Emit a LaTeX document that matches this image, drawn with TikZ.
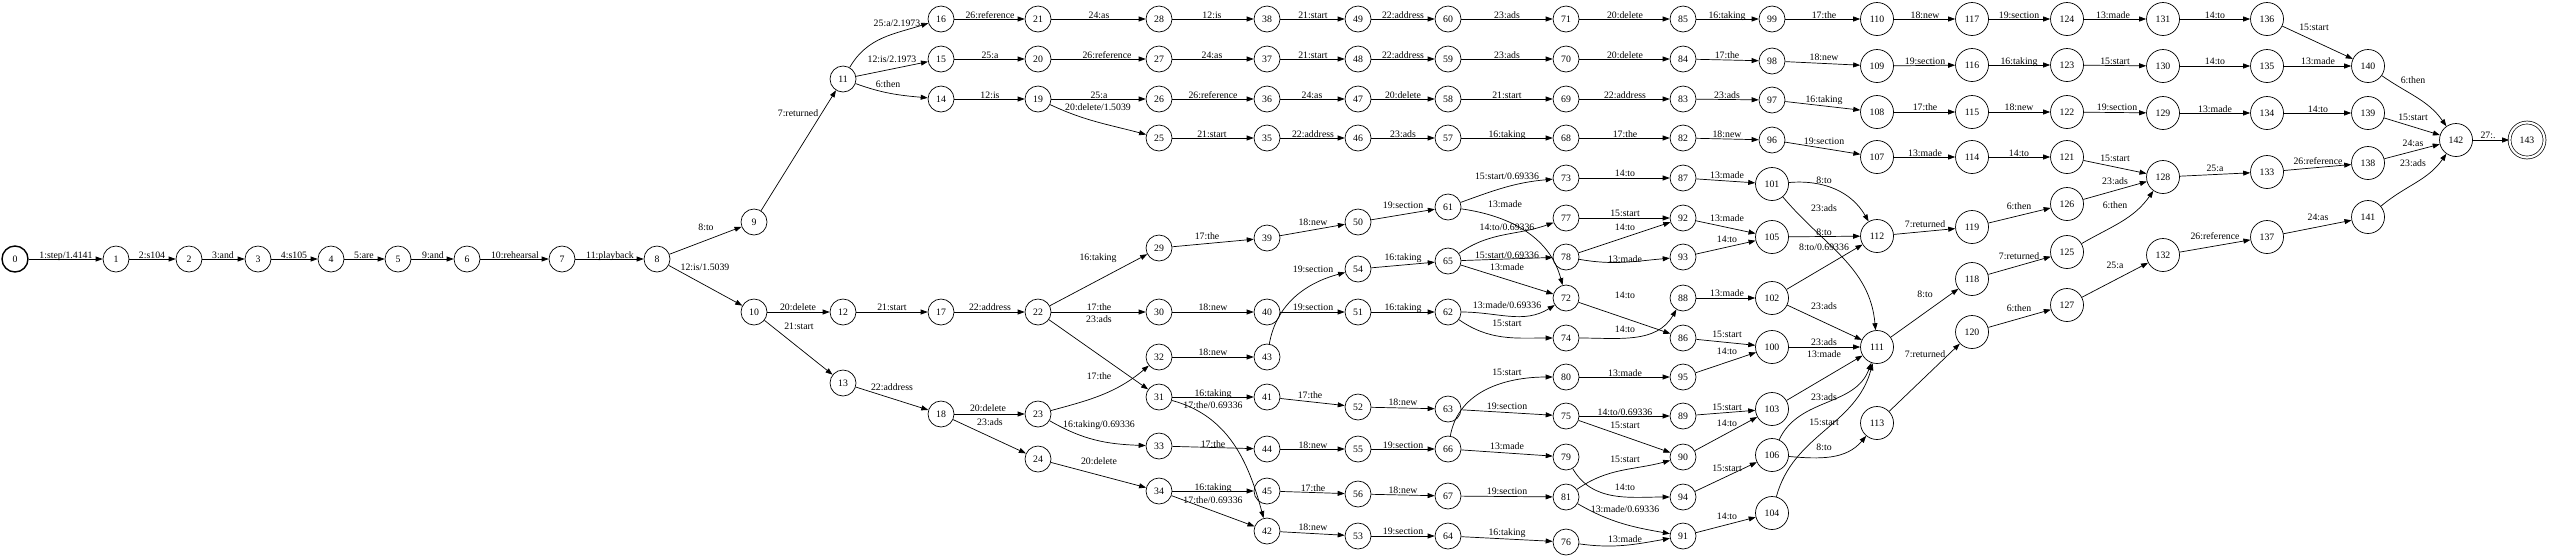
\documentclass[tikz,border=0pt]{standalone}
\usepackage{fontspec}
\setmainfont{Liberation Serif}
\usetikzlibrary{arrows.meta}
\tikzset{
 st/.style={circle,draw,line width=0.7pt,minimum size=26pt,inner sep=0pt,font=\fontsize{9.8pt}{11pt}\selectfont},
 st3/.style={st,minimum size=33pt},
 init/.style={line width=1.4pt},
 fin/.style={double,double distance=2.2pt,minimum size=35pt},
 lbl/.style={inner sep=0pt,text height=6.6pt,text depth=0pt,font=\fontsize{9.8pt}{11pt}\selectfont},
 e/.style={line width=0.7pt,-{Triangle[length=7pt,width=5pt]}}
}
\newcommand\St[3]{\node[st] (n#1) at (#2,-#3) {#1};}
\newcommand\Sb[3]{\node[st3] (n#1) at (#2,-#3) {#1};}
\newcommand\Ed[5]{\draw[e] (n#1) -- (n#2); \node[lbl] (l#1x#2) at (#4,-#5) {#3};}
\newcommand\Ec[7]{\draw[e] (n#1) to[out=#6,in=#7] (n#2); \node[lbl] (l#1x#2) at (#4,-#5) {#3};}
\begin{document}
\begin{tikzpicture}[x=1pt,y=1pt]
\useasboundingbox (0,0) rectangle (2550,-558);
\node[st,init] (n0) at (15,-259) {0};
\St{1}{116}{259}
\St{2}{189}{259}
\St{3}{258}{259}
\St{4}{331}{259}
\St{5}{398}{259}
\St{6}{467}{259}
\St{7}{562}{259}
\St{8}{657}{259}
\St{9}{754}{222}
\St{10}{754}{312}
\St{11}{843}{79}
\St{12}{843}{312}
\St{13}{843}{383}
\St{14}{941}{99}
\St{15}{941}{59}
\St{16}{941}{19}
\St{17}{941}{312}
\St{18}{941}{414}
\St{19}{1038}{99}
\St{20}{1038}{59}
\St{21}{1038}{19}
\St{22}{1038}{312}
\St{23}{1038}{414}
\St{24}{1038}{459}
\St{25}{1159}{138}
\St{26}{1159}{99}
\St{27}{1159}{59}
\St{28}{1159}{19}
\St{29}{1159}{248}
\St{30}{1159}{312}
\St{31}{1159}{397}
\St{32}{1159}{357}
\St{33}{1159}{446}
\St{34}{1159}{491}
\St{35}{1267}{138}
\St{36}{1267}{99}
\St{37}{1267}{59}
\St{38}{1267}{19}
\St{39}{1267}{238}
\St{40}{1267}{312}
\St{41}{1267}{397}
\St{42}{1267}{531}
\St{43}{1267}{357}
\St{44}{1267}{449}
\St{45}{1267}{491}
\St{46}{1358}{138}
\St{47}{1358}{99}
\St{48}{1358}{59}
\St{49}{1358}{19}
\St{50}{1358}{222}
\St{51}{1358}{312}
\St{52}{1358}{407}
\St{53}{1358}{536}
\St{54}{1358}{269}
\St{55}{1358}{449}
\St{56}{1358}{494}
\St{57}{1448}{138}
\St{58}{1448}{99}
\St{59}{1448}{59}
\St{60}{1448}{19}
\St{61}{1448}{207}
\St{62}{1448}{312}
\St{63}{1448}{409}
\St{64}{1448}{536}
\St{65}{1448}{261}
\St{66}{1448}{449}
\St{67}{1448}{496}
\St{68}{1566}{138}
\St{69}{1566}{99}
\St{70}{1566}{59}
\St{71}{1566}{19}
\St{72}{1566}{298}
\St{73}{1566}{178}
\St{74}{1566}{338}
\St{75}{1566}{416}
\St{76}{1566}{542}
\St{77}{1566}{218}
\St{78}{1566}{257}
\St{79}{1566}{457}
\St{80}{1566}{377}
\St{81}{1566}{497}
\St{82}{1683}{138}
\St{83}{1683}{99}
\St{84}{1683}{59}
\St{85}{1683}{19}
\St{86}{1683}{338}
\St{87}{1683}{178}
\St{88}{1683}{298}
\St{89}{1683}{416}
\St{90}{1683}{457}
\St{91}{1683}{536}
\St{92}{1683}{218}
\St{93}{1683}{257}
\St{94}{1683}{497}
\St{95}{1683}{377}
\St{96}{1772}{140}
\St{97}{1772}{100}
\St{98}{1772}{61}
\St{99}{1772}{19}
\Sb{100}{1772}{347}
\Sb{101}{1772}{184}
\Sb{102}{1772}{298}
\Sb{103}{1772}{409}
\Sb{104}{1772}{513}
\Sb{105}{1772}{237}
\Sb{106}{1772}{455}
\Sb{107}{1877}{157}
\Sb{108}{1877}{112}
\Sb{109}{1877}{66}
\Sb{110}{1877}{19}
\Sb{111}{1877}{347}
\Sb{112}{1877}{236}
\Sb{113}{1877}{423}
\Sb{114}{1972}{157}
\Sb{115}{1972}{112}
\Sb{116}{1972}{65}
\Sb{117}{1972}{19}
\Sb{118}{1972}{279}
\Sb{119}{1972}{227}
\Sb{120}{1972}{332}
\Sb{121}{2067}{157}
\Sb{122}{2067}{112}
\Sb{123}{2067}{65}
\Sb{124}{2067}{19}
\Sb{125}{2067}{252}
\Sb{126}{2067}{204}
\Sb{127}{2067}{305}
\Sb{128}{2163}{177}
\Sb{129}{2163}{113}
\Sb{130}{2163}{66}
\Sb{131}{2163}{19}
\Sb{132}{2163}{255}
\Sb{133}{2267}{172}
\Sb{134}{2267}{113}
\Sb{135}{2267}{66}
\Sb{136}{2267}{19}
\Sb{137}{2267}{237}
\Sb{138}{2368}{163}
\Sb{139}{2368}{113}
\Sb{140}{2368}{66}
\Sb{141}{2368}{217}
\Sb{142}{2456}{140}
\node[st,fin] (n143) at (2527,-140) {143};
% edges
\Ed{0}{1}{1:step/1.4141}{66}{255}
\Ed{1}{2}{2:s104}{152}{255}
\Ed{2}{3}{3:and}{223}{255}
\Ed{3}{4}{4:s105}{294}{255}
\Ed{4}{5}{5:are}{364}{255}
\Ed{5}{6}{9:and}{433}{255}
\Ed{6}{7}{10:rehearsal}{515}{255}
\Ed{7}{8}{11:playback}{610}{255}
\Ed{8}{9}{8:to}{706}{227}
\Ed{8}{10}{12:is/1.5039}{705}{267}
\Ed{9}{11}{7:returned}{798}{113}
\Ed{10}{12}{20:delete}{798}{307}
\Ed{10}{13}{21:start}{799}{326}
\Ec{11}{16}{25:a/2.1973}{897}{23}{60}{198}
\Ed{11}{15}{12:is/2.1973}{892}{59}
\Ec{11}{14}{6:then}{888}{84}{-20}{175}
\Ed{16}{21}{26:reference}{990}{15}
\Ed{21}{28}{24:as}{1099}{15}
\Ed{28}{38}{12:is}{1212}{15}
\Ed{15}{20}{25:a}{990}{55}
\Ed{20}{27}{26:reference}{1107}{55}
\Ed{27}{37}{24:as}{1212}{55}
\Ed{14}{19}{12:is}{990}{95}
\Ed{19}{26}{25:a}{1099}{95}
\Ec{19}{25}{20:delete/1.5039}{1098}{107}{-25}{165}
\Ed{26}{36}{26:reference}{1213}{95}
\Ed{25}{35}{21:start}{1212}{134}
\Ed{22}{29}{16:taking}{1098}{257}
\Ed{29}{39}{17:the}{1207}{236}
\Ed{12}{17}{21:start}{892}{307}
\Ed{17}{22}{22:address}{990}{307}
\Ed{22}{30}{17:the}{1099}{307}
\Ed{22}{31}{23:ads}{1099}{319}
\Ed{30}{40}{18:new}{1213}{307}
\Ed{32}{43}{18:new}{1213}{352}
\Ec{23}{32}{17:the}{1099}{376}{15}{220}
\Ed{13}{18}{22:address}{892}{387}
\Ed{31}{41}{16:taking}{1213}{393}
\Ec{31}{42}{17:the/0.69336}{1213}{405}{-15}{105}
\Ed{18}{23}{20:delete}{988}{408}
\Ed{18}{24}{23:ads}{990}{422}
\Ec{23}{33}{16:taking/0.69336}{1099}{424}{-30}{178}
\Ed{33}{44}{17:the}{1213}{444}
\Ed{24}{34}{20:delete}{1099}{461}
\Ed{34}{45}{16:taking}{1213}{487}
\Ed{34}{42}{17:the/0.69336}{1213}{500}
\Ed{38}{49}{21:start}{1313}{15}
\Ed{49}{60}{22:address}{1403}{15}
\Ed{60}{71}{23:ads}{1507}{15}
\Ed{71}{85}{20:delete}{1625}{15}
\Ed{37}{48}{21:start}{1313}{55}
\Ed{48}{59}{22:address}{1403}{55}
\Ed{59}{70}{23:ads}{1507}{55}
\Ed{70}{84}{20:delete}{1625}{55}
\Ed{36}{47}{24:as}{1312}{95}
\Ed{47}{58}{20:delete}{1403}{95}
\Ed{58}{69}{21:start}{1507}{95}
\Ed{69}{83}{22:address}{1625}{95}
\Ed{35}{46}{22:address}{1313}{134}
\Ed{46}{57}{23:ads}{1403}{134}
\Ed{57}{68}{16:taking}{1507}{134}
\Ed{68}{82}{17:the}{1625}{134}
\Ec{61}{73}{15:start/0.69336}{1507}{176}{20}{185}
\Ed{73}{87}{14:to}{1625}{173}
\Ec{61}{72}{13:made}{1505}{204}{-8}{105}
\Ed{50}{61}{19:section}{1403}{205}
\Ed{39}{50}{18:new}{1313}{222}
\Ec{65}{77}{14:to/0.69336}{1507}{227}{35}{200}
\Ed{77}{92}{15:start}{1625}{213}
\Ed{78}{92}{14:to}{1625}{227}
\Ed{65}{78}{15:start/0.69336}{1507}{255}
\Ec{78}{93}{13:made}{1625}{259}{-10}{185}
\Ed{65}{72}{13:made}{1507}{267}
\Ed{54}{65}{16:taking}{1403}{257}
\Ec{43}{54}{19:section}{1313}{269}{80}{195}
\Ec{62}{72}{13:made/0.69336}{1507}{305}{0}{212}
\Ed{72}{86}{14:to}{1625}{295}
\Ed{40}{51}{19:section}{1313}{307}
\Ed{51}{62}{16:taking}{1403}{307}
\Ec{62}{74}{15:start}{1507}{323}{-35}{180}
\Ec{74}{88}{14:to}{1625}{329}{0}{240}
\Ec{66}{80}{15:start}{1507}{372}{80}{180}
\Ed{80}{95}{13:made}{1625}{373}
\Ed{41}{52}{17:the}{1310}{395}
\Ed{52}{63}{18:new}{1403}{402}
\Ed{63}{75}{19:section}{1507}{406}
\Ed{75}{89}{14:to/0.69336}{1625}{412}
\Ed{75}{90}{15:start}{1625}{425}
\Ed{44}{55}{18:new}{1313}{445}
\Ed{55}{66}{19:section}{1403}{445}
\Ed{66}{79}{13:made}{1507}{446}
\Ec{81}{90}{15:start}{1625}{459}{35}{195}
\Ed{45}{56}{17:the}{1313}{488}
\Ed{56}{67}{18:new}{1403}{490}
\Ed{67}{81}{19:section}{1507}{491}
\Ec{79}{94}{14:to}{1625}{487}{-60}{180}
\Ec{81}{91}{13:made/0.69336}{1625}{509}{-30}{170}
\Ed{42}{53}{18:new}{1313}{527}
\Ed{53}{64}{19:section}{1403}{531}
\Ed{64}{76}{16:taking}{1507}{532}
\Ec{76}{91}{13:made}{1625}{539}{-8}{190}
\Ed{85}{99}{16:taking}{1727}{15}
\Ed{99}{110}{17:the}{1824}{15}
\Ed{110}{117}{18:new}{1925}{15}
\Ed{117}{124}{19:section}{2019}{15}
\Ed{124}{131}{13:made}{2113}{15}
\Ed{84}{98}{17:the}{1727}{55}
\Ed{98}{109}{18:new}{1824}{57}
\Ed{109}{116}{19:section}{1925}{61}
\Ed{116}{123}{16:taking}{2019}{61}
\Ed{123}{130}{15:start}{2115}{61}
\Ed{83}{97}{23:ads}{1727}{95}
\Ed{97}{108}{16:taking}{1824}{99}
\Ed{108}{115}{17:the}{1925}{107}
\Ed{115}{122}{18:new}{2019}{107}
\Ed{122}{129}{19:section}{2117}{107}
\Ed{82}{96}{18:new}{1727}{134}
\Ed{96}{107}{19:section}{1824}{141}
\Ed{107}{114}{13:made}{1925}{153}
\Ed{114}{121}{14:to}{2019}{153}
\Ed{121}{128}{15:start}{2115}{158}
\Ed{87}{101}{13:made}{1727}{175}
\Ec{101}{112}{8:to}{1824}{180}{5}{120}
\Ec{101}{111}{23:ads}{1824}{208}{-50}{95}
\Ed{119}{126}{6:then}{2019}{206}
\Ed{126}{128}{23:ads}{2115}{181}
\Ec{125}{128}{6:then}{2115}{205}{30}{235}
\Ed{92}{105}{13:made}{1727}{218}
\Ed{105}{112}{8:to}{1824}{232}
\Ed{112}{119}{7:returned}{1925}{224}
\Ed{93}{105}{14:to}{1727}{239}
\Ed{102}{112}{8:to/0.69336}{1824}{247}
\Ed{118}{125}{7:returned}{2019}{256}
\Ed{127}{132}{25:a}{2115}{265}
\Ed{88}{102}{13:made}{1727}{293}
\Ed{102}{111}{23:ads}{1824}{306}
\Ed{111}{118}{8:to}{1925}{294}
\Ed{120}{127}{6:then}{2019}{308}
\Ed{86}{100}{15:start}{1727}{334}
\Ed{100}{111}{23:ads}{1824}{342}
\Ed{95}{100}{14:to}{1727}{351}
\Ed{103}{111}{13:made}{1824}{354}
\Ed{113}{120}{7:returned}{1925}{354}
\Ec{106}{111}{23:ads}{1824}{397}{65}{250}
\Ed{89}{103}{15:start}{1727}{407}
\Ed{90}{103}{14:to}{1727}{423}
\Ec{104}{111}{15:start}{1824}{422}{75}{255}
\Ec{106}{113}{8:to}{1824}{447}{-5}{230}
\Ed{94}{106}{15:start}{1727}{468}
\Ed{91}{104}{14:to}{1727}{516}
\Ed{131}{136}{14:to}{2215}{15}
\Ed{136}{140}{15:start}{2314}{27}
\Ed{130}{135}{14:to}{2215}{61}
\Ed{135}{140}{13:made}{2318}{61}
\Ec{140}{142}{6:then}{2413}{80}{-35}{125}
\Ed{129}{134}{13:made}{2215}{109}
\Ed{134}{139}{14:to}{2318}{109}
\Ed{139}{142}{15:start}{2413}{117}
\Ed{138}{142}{24:as}{2413}{143}
\Ed{142}{143}{27:.}{2488}{135}
\Ec{141}{142}{23:ads}{2413}{163}{40}{235}
\Ed{128}{133}{25:a}{2215}{168}
\Ed{133}{138}{26:reference}{2318}{161}
\Ed{137}{141}{24:as}{2318}{217}
\Ed{132}{137}{26:reference}{2215}{236}
\end{tikzpicture}
\end{document}
